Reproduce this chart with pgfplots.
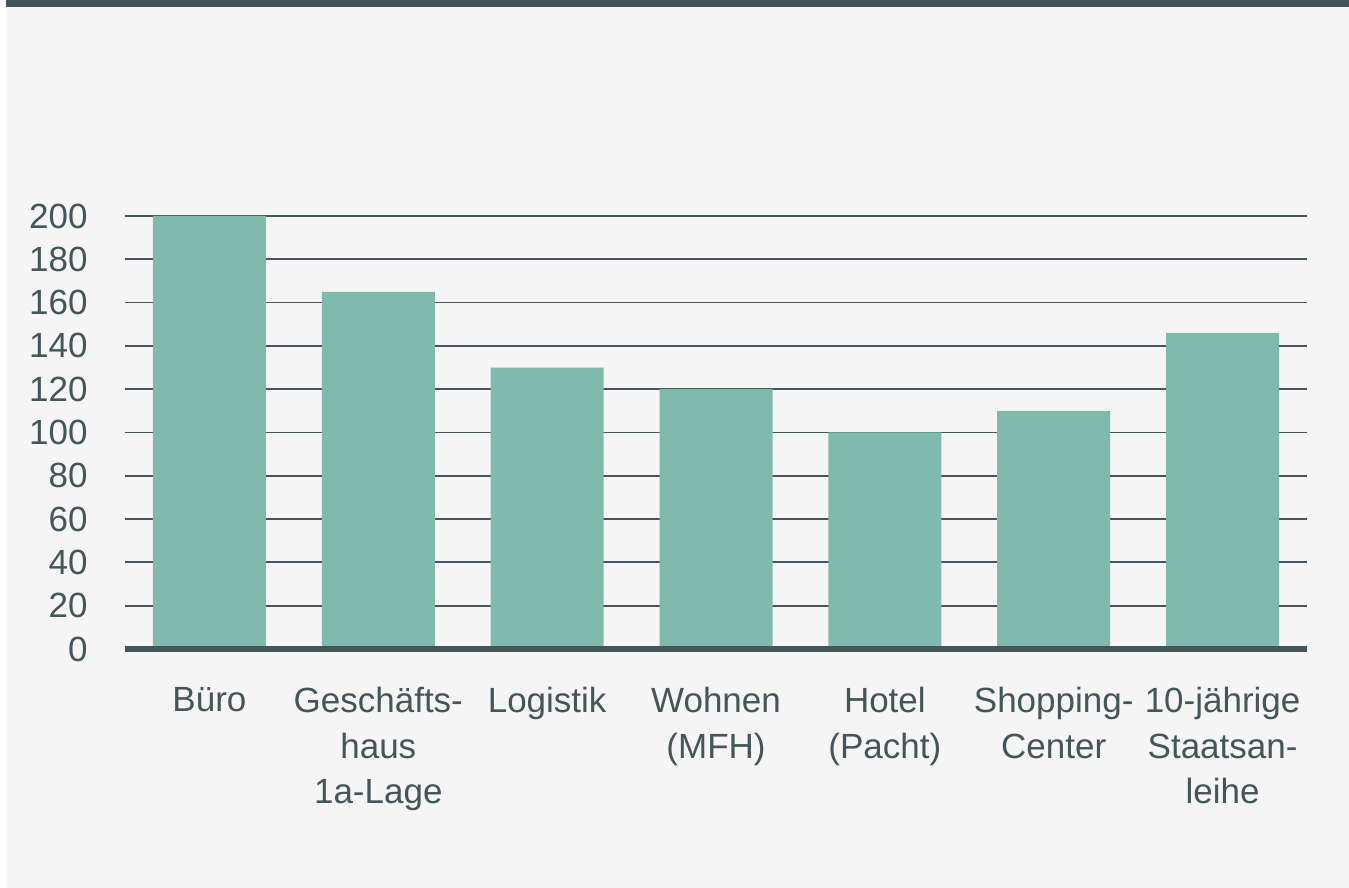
\documentclass[border=0pt]{standalone}
\usepackage{pgfplots}
\pgfplotsset{compat=1.18}
\usepackage{fontspec}
\setmainfont{Liberation Sans}
\definecolor{bg}{HTML}{F5F5F5}
\definecolor{topbar}{HTML}{435558}
\definecolor{txt}{HTML}{44565A}
\definecolor{barc}{HTML}{80BAAC}
\begin{document}
\begin{tikzpicture}
\useasboundingbox (0,0) rectangle (674.5pt,444pt);
\fill[white] (0,0) rectangle (674.5pt,444pt);
\fill[bg] (3pt,0) rectangle (674.5pt,444pt);
\fill[topbar] (3pt,440.5pt) rectangle (674.5pt,444pt);
\begin{axis}[
  at={(62.5pt,119.5pt)}, anchor=south west,
  scale only axis, width=591pt, height=216.5pt,
  xmin=-0.5, xmax=6.5, ymin=0, ymax=200,
  ybar, bar width=56.5pt,
  axis line style={draw=none},
  major tick length=0pt,
  ytick={0,20,...,200},
  ymajorgrids, grid style={color=txt, line width=0.9pt},
  xtick=data,
  xticklabels={B\"uro,{Gesch\"afts-\\haus\\1a-Lage},Logistik,{Wohnen\\(MFH)},{Hotel\\(Pacht)},{Shopping-\\Center},{10-j\"ahrige\\Staatsan-\\leihe}},
  xticklabel style={font=\fontsize{17.5}{22.75}\selectfont, text=txt, align=center, anchor=north, inner sep=0pt, yshift=-19pt},
  yticklabel style={font=\fontsize{17.5}{20}\selectfont, text=txt, anchor=east, inner sep=0pt, xshift=-18.5pt},
  /pgf/number format/assume math mode=true,
  clip=false,
]
\addplot[fill=barc, draw=none] coordinates {(0,200) (1,165) (2,130) (3,120) (4,100) (5,110) (6,146)};
\draw[txt, line width=2.6pt] (axis cs:-0.5,0) -- (axis cs:6.5,0);
\end{axis}
\end{tikzpicture}
\end{document}
